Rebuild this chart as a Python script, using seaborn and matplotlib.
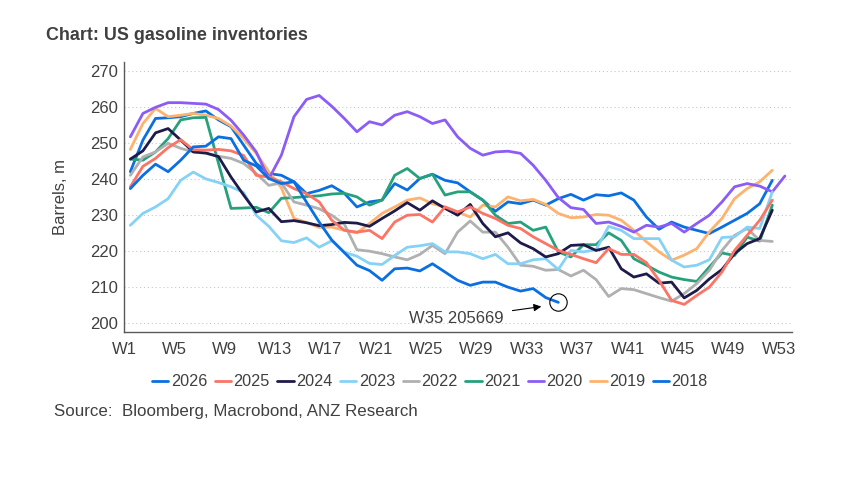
import matplotlib
matplotlib.use("Agg")
import matplotlib.pyplot as plt
import seaborn as sns
import pandas as pd
import numpy as np

# ==========================================
# 数据：按周读取的库存 (百万桶)
# ==========================================
y2026 = [237.3, 241.0, 244.1, 242.0, 245.2, 248.9, 249.1, 251.7, 251.2, 245.2,
         243.6, 240.1, 238.7, 239.2, 233.5, 228.0, 223.0, 219.5, 216.0, 214.5,
         211.8, 215.0, 215.2, 214.4, 216.4, 214.1, 211.8, 210.4, 211.3, 211.3,
         209.9, 208.8, 209.5, 207.0, 205.669]
y2025 = [237.8, 243.5, 245.7, 248.7, 250.9, 248.1, 248.0, 248.2, 247.8, 246.5,
         241.0, 240.5, 239.2, 237.3, 235.9, 233.6, 228.5, 225.7, 225.2, 225.7,
         223.4, 228.0, 229.9, 230.1, 228.0, 232.2, 230.8, 232.2, 230.4, 229.0,
         227.1, 226.2, 223.9, 222.0, 220.1, 219.0, 217.8, 216.7, 220.6, 219.0,
         219.0, 216.7, 211.8, 206.2, 205.1, 207.6, 209.9, 214.1, 220.1, 224.3,
         228.5, 234.1]
y2024 = [245.5, 247.8, 252.8, 254.0, 250.8, 247.5, 247.2, 246.2, 240.5, 235.5,
         230.8, 231.8, 228.1, 228.4, 227.8, 227.0, 227.3, 227.9, 227.7, 226.8,
         229.0, 231.1, 233.4, 231.3, 233.9, 231.8, 229.9, 232.9, 227.6, 223.9,
         225.0, 222.2, 220.6, 218.3, 219.2, 221.5, 221.7, 220.1, 221.0, 215.0,
         212.7, 213.6, 211.0, 211.3, 206.9, 209.0, 212.2, 214.8, 219.2, 222.0,
         223.4, 231.3]
y2023 = [227.1, 230.4, 232.2, 234.5, 239.6, 241.9, 240.0, 239.0, 237.8, 236.2,
         229.9, 226.8, 222.8, 222.3, 223.6, 221.0, 222.8, 219.6, 218.5, 216.5,
         216.2, 218.7, 221.0, 221.4, 222.0, 219.7, 219.7, 219.2, 217.8, 219.0,
         216.4, 216.4, 217.5, 217.8, 214.8, 220.1, 219.7, 220.3, 226.8, 225.7,
         223.4, 223.4, 223.4, 217.4, 215.5, 216.0, 217.5, 223.7, 223.9, 226.6,
         226.2, 236.4]
y2022 = [241.0, 246.1, 247.5, 249.9, 248.5, 247.5, 247.1, 246.3, 245.7, 244.3,
         241.5, 238.2, 238.9, 233.6, 232.7, 231.7, 229.9, 227.4, 220.3, 219.9,
         219.2, 218.3, 217.5, 219.0, 221.5, 219.2, 225.2, 228.3, 225.2, 225.2,
         221.0, 216.0, 215.7, 214.6, 214.8, 213.0, 214.6, 212.0, 207.3, 209.5,
         209.2, 208.1, 207.0, 206.0, 208.1, 210.9, 214.6, 220.1, 224.3, 226.2,
         222.9, 222.6]
y2021 = [245.5, 245.2, 247.5, 251.2, 256.4, 257.0, 257.1, 244.4, 231.8, 231.9,
         232.1, 230.6, 234.6, 234.8, 235.1, 235.3, 235.8, 236.0, 235.0, 232.7,
         234.1, 241.0, 242.9, 240.1, 241.3, 235.5, 236.4, 236.4, 234.1, 229.9,
         227.6, 228.0, 225.7, 226.6, 219.7, 218.3, 221.7, 221.7, 225.0, 222.9,
         217.8, 216.0, 214.1, 212.7, 212.0, 211.5, 215.5, 219.4, 218.7, 223.8,
         222.7, 232.7]
y2020 = [251.7, 258.2, 259.9, 261.2, 261.2, 261.0, 260.8, 259.3, 256.3, 252.2,
         247.5, 240.0, 246.6, 257.3, 262.1, 263.2, 260.2, 256.8, 253.1, 255.9,
         255.0, 257.7, 258.7, 257.3, 255.4, 256.4, 251.7, 248.5, 246.6, 247.5,
         247.7, 247.1, 243.8, 239.6, 234.8, 232.0, 231.5, 227.6, 228.0, 226.8,
         225.2, 227.1, 226.6, 227.6, 225.2, 227.6, 229.9, 233.6, 237.8, 238.7,
         238.0, 236.4, 240.8]
y2019 = [248.2, 255.4, 259.6, 257.3, 257.7, 258.2, 257.7, 256.8, 254.7, 251.2,
         247.1, 242.0, 237.5, 229.0, 227.9, 226.5, 226.6, 225.7, 225.0, 227.6,
         230.4, 232.2, 234.1, 234.7, 233.1, 232.2, 230.8, 229.4, 232.7, 232.2,
         235.0, 233.9, 234.3, 232.9, 230.4, 229.2, 229.4, 230.1, 229.9, 228.5,
         225.7, 222.5, 219.7, 217.4, 218.8, 220.6, 225.3, 229.0, 234.5, 237.3,
         239.2, 242.4]
y2018 = [242.0, 250.8, 256.8, 257.0, 257.3, 258.2, 258.9, 256.4, 254.5, 249.4,
         244.3, 241.5, 241.0, 239.2, 235.9, 236.8, 238.1, 236.0, 232.2, 233.6,
         234.1, 238.7, 236.9, 240.1, 241.3, 239.6, 238.9, 236.4, 234.1, 231.0,
         233.6, 233.1, 234.1, 232.7, 234.5, 235.7, 234.1, 235.6, 235.3, 236.1,
         234.1, 229.4, 226.0, 228.0, 226.6, 225.7, 224.8, 226.6, 228.5, 230.4,
         233.1, 239.6]

years = ["2026", "2025", "2024", "2023", "2022", "2021", "2020", "2019", "2018"]
series = [y2026, y2025, y2024, y2023, y2022, y2021, y2020, y2019, y2018]
colors = ["#0a6fe0", "#fb7465", "#1e1b4b", "#86d2f7", "#b0b0b0",
          "#26a17c", "#8b5cf6", "#fdb26e", "#0a6fe0"]
tick_weeks = list(range(1, 54, 4))

rows = []
for yr, vals in zip(years, series):
    for i, v in enumerate(vals):
        rows.append({"week": i + 1, "year": yr, "value": v})
df = pd.DataFrame(rows)

TXT = "#404040"

# ==========================================
# 绘图
# ==========================================
sns.set_theme(style="white")
plt.rcParams["font.family"] = ["Liberation Sans", "DejaVu Sans"]

fig = plt.figure(figsize=(8.65, 4.78), dpi=100)
ax = fig.add_axes([0.1434, 0.306, 0.772, 0.565])

sns.lineplot(data=df, x="week", y="value", hue="year", hue_order=years[::-1],
             palette=dict(zip(years, colors)), linewidth=2, ax=ax,
             estimator=None, legend=True)

ax.set_xlim(0.5, 53.55)
ax.set_ylim(197.5, 272.6)
ax.set_xticks([w - 0.5 for w in tick_weeks])
ax.set_xticklabels([f"W{w}" for w in tick_weeks])
ax.set_yticks(range(200, 271, 10))
ax.yaxis.grid(True, linestyle=(0, (1, 2.5)), color="#bcccd6", lw=0.8)
ax.xaxis.grid(False)
ax.set_xlabel("")
ax.set_ylabel("Barrels, m", fontsize=12, color=TXT)
ax.yaxis.set_label_coords(-0.084, 0.5)
for s in ["top", "right"]:
    ax.spines[s].set_visible(False)
for s in ["left", "bottom"]:
    ax.spines[s].set_color("#595959")
    ax.spines[s].set_linewidth(1)
ax.tick_params(axis="both", direction="out", length=3.6, width=1,
               color="#8c8c8c", labelsize=12, labelcolor=TXT)
ax.tick_params(axis="y", pad=1)
ax.tick_params(axis="x", pad=3.5)

# 末端标注
ax.plot([35], [y2026[-1]], marker="o", markersize=12.5, markerfacecolor="none",
        markeredgecolor="black", markeredgewidth=0.8)
ax.annotate("W35 205669", xy=(33.65, 204.5), xytext=(26.9, 201.2),
            ha="center", va="center", fontsize=12, color=TXT,
            arrowprops=dict(arrowstyle="-|>", color="black", lw=0.8,
                            mutation_scale=11, shrinkA=4, shrinkB=0))

# 图例
handles, labels = ax.get_legend_handles_labels()
order = [labels.index(y) for y in years]
ax.legend([handles[i] for i in order], [labels[i] for i in order],
          loc="center", bbox_to_anchor=(0.497, 1 - 381.7 / 478),
          bbox_transform=fig.transFigure, ncol=9, frameon=False,
          fontsize=11.7, handlelength=1.0, handletextpad=0.15,
          columnspacing=0.47, labelcolor=TXT, borderpad=0)

fig.text(46 / 865, 1 - 35 / 478, "Chart: US gasoline inventories",
         fontsize=12.9, fontweight="bold", color=TXT, va="center")
fig.text(54 / 865, 1 - 411.7 / 478, "Source:  Bloomberg, Macrobond, ANZ Research",
         fontsize=12.2, color=TXT, va="center")

fig.savefig("out.png", dpi=100)
plt.close(fig)
